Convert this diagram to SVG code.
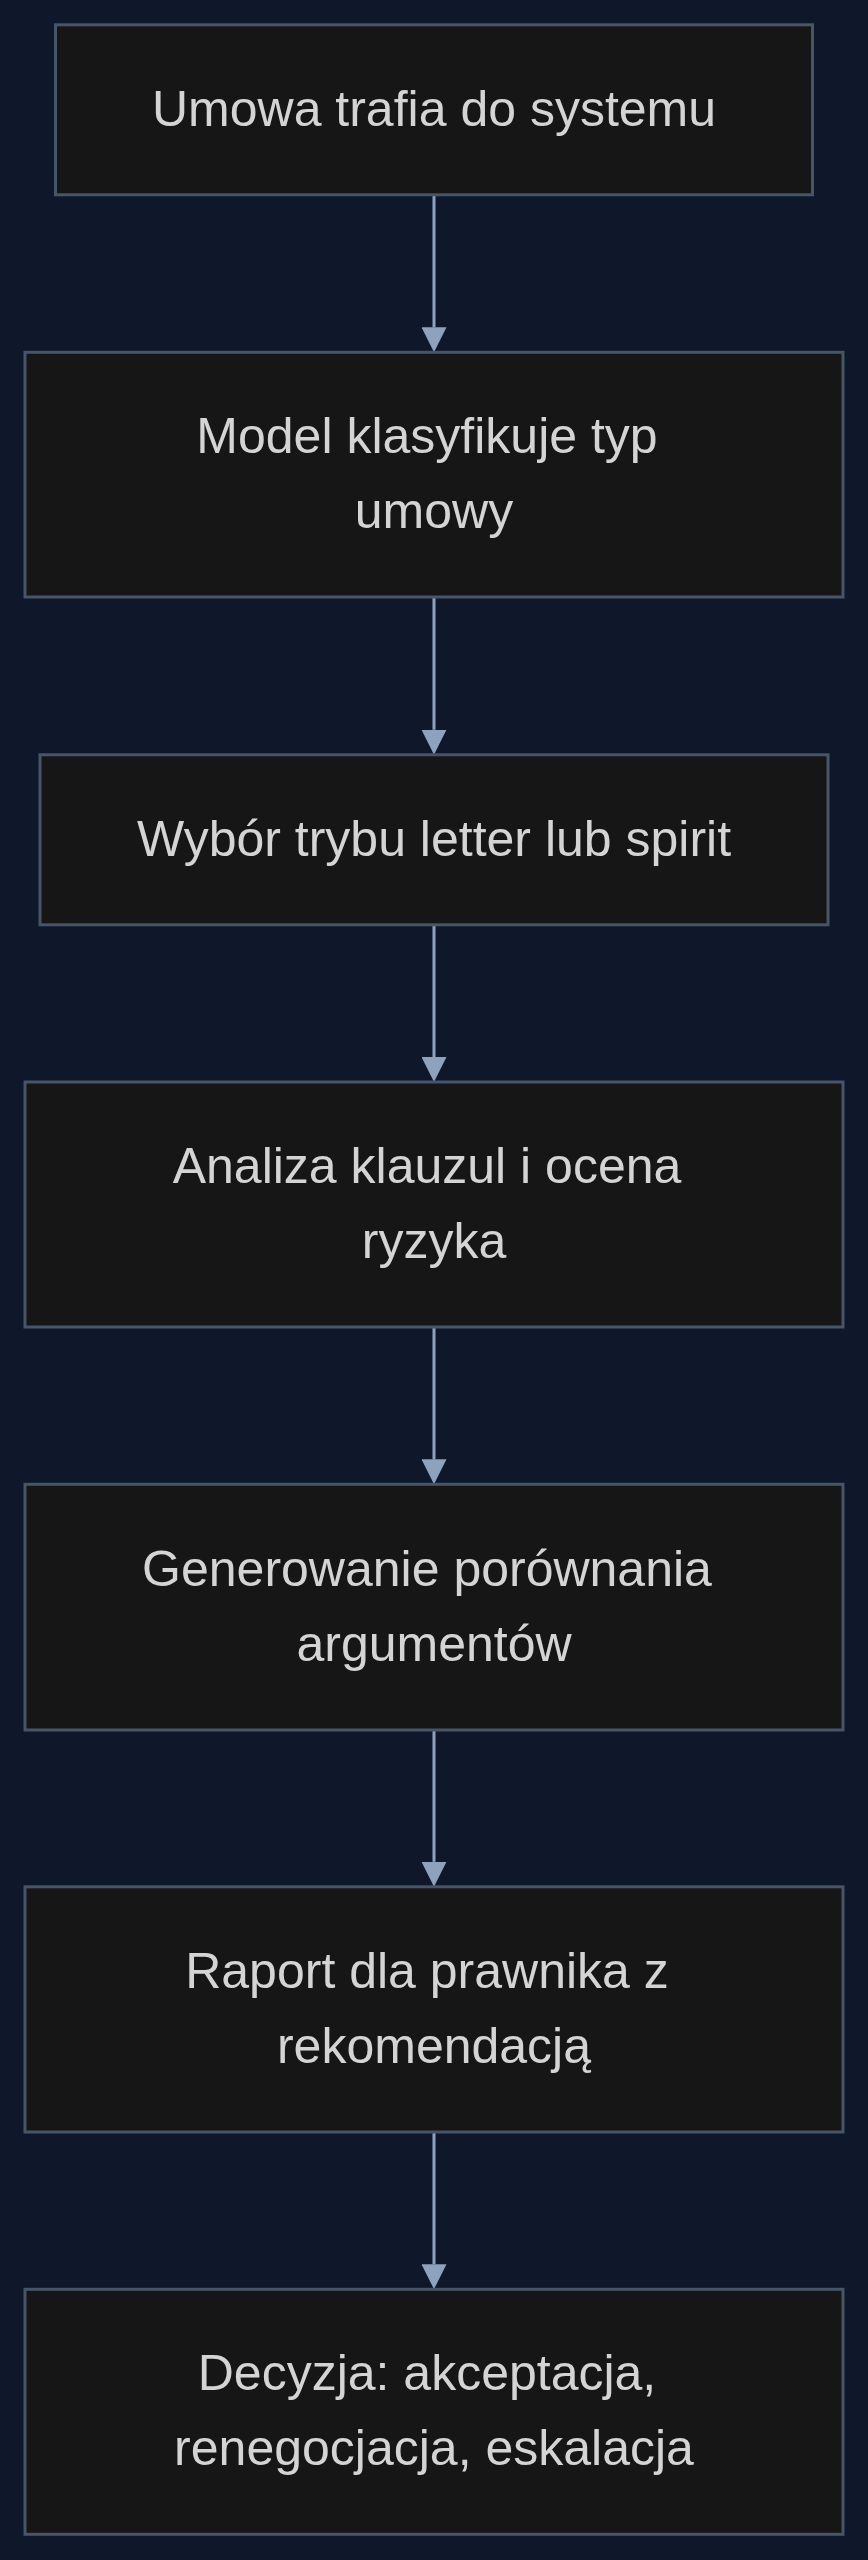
<svg xmlns="http://www.w3.org/2000/svg" width="868" height="2560" viewBox="0 0 868 2560">
  <style>
    .node rect { fill: #161616; stroke: #475569; stroke-width: 3; }
    .node text { font-family: "Liberation Sans", Arial, sans-serif; font-size: 50px; fill: #d4d4d4; text-anchor: middle; }
    .edge { stroke: #8fa2bd; stroke-width: 3; fill: none; }
  </style>
  <defs>
    <marker id="arrow" viewBox="0 0 10 10" refX="0" refY="5" markerWidth="25" markerHeight="25" markerUnits="userSpaceOnUse" orient="auto">
      <path d="M0,0 L10,5 L0,10 z" fill="#8fa2bd"/>
    </marker>
  </defs>
  <rect x="0" y="0" width="868" height="2560" fill="#0f172a"/>

  <g id="connectors">
    <path class="edge" d="M434,194.7 L434,327.3" marker-end="url(#arrow)"/>
    <path class="edge" d="M434,597 L434,729.8" marker-end="url(#arrow)"/>
    <path class="edge" d="M434,924.7 L434,1057" marker-end="url(#arrow)"/>
    <path class="edge" d="M434,1327 L434,1459.3" marker-end="url(#arrow)"/>
    <path class="edge" d="M434,1730 L434,1861.8" marker-end="url(#arrow)"/>
    <path class="edge" d="M434,2132 L434,2264.3" marker-end="url(#arrow)"/>
  </g>

  <g id="n1" class="node">
    <rect x="55.5" y="24.8" width="757" height="170"/>
    <text x="434" y="125.8">Umowa trafia do systemu</text>
  </g>
  <g id="n2" class="node">
    <rect x="25" y="352.3" width="818" height="244.7"/>
    <text x="427" y="453.2">Model klasyfikuje typ</text>
    <text x="434" y="528.2">umowy</text>
  </g>
  <g id="n3" class="node">
    <rect x="40" y="754.8" width="788" height="170"/>
    <text x="434" y="855.8">Wybór trybu letter lub spirit</text>
  </g>
  <g id="n4" class="node">
    <rect x="25" y="1082" width="818" height="245"/>
    <text x="427" y="1183">Analiza klauzul i ocena</text>
    <text x="434" y="1258">ryzyka</text>
  </g>
  <g id="n5" class="node">
    <rect x="25" y="1484.3" width="818" height="245.7"/>
    <text x="427" y="1585.6">Generowanie porównania</text>
    <text x="434" y="1660.6">argumentów</text>
  </g>
  <g id="n6" class="node">
    <rect x="25" y="1886.8" width="818" height="245.2"/>
    <text x="427" y="1988">Raport dla prawnika z</text>
    <text x="434" y="2063">rekomendacją</text>
  </g>
  <g id="n7" class="node">
    <rect x="25" y="2289.3" width="818" height="245"/>
    <text x="427" y="2390.2">Decyzja: akceptacja,</text>
    <text x="434" y="2465.2">renegocjacja, eskalacja</text>
  </g>
</svg>
